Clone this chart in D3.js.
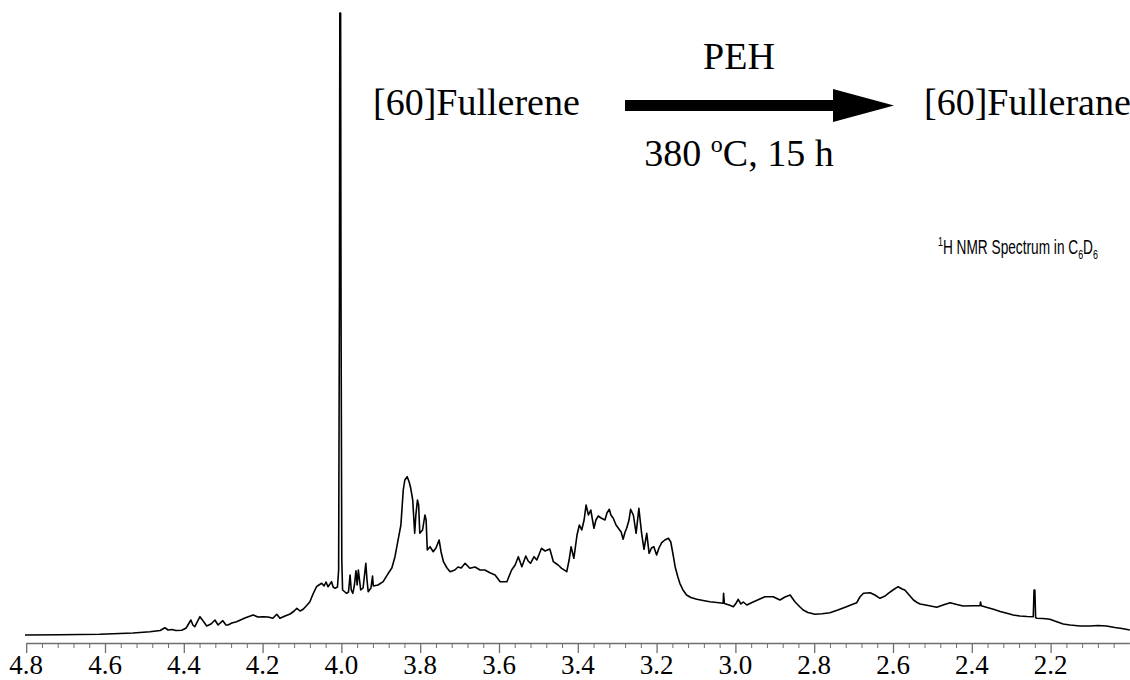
<!DOCTYPE html>
<html>
<head>
<meta charset="utf-8">
<script src="https://cdn.jsdelivr.net/npm/d3@7"></script>
<style>
  html, body { margin: 0; padding: 0; background: #fff; }
  svg { display: block; }
</style>
</head>
<body>
<svg id="chart" width="1130" height="680"></svg>
<script>
// Chemical shift (ppm)
const ppm = [4.803,4.714,4.613,4.529,4.486,4.460,4.448,4.440,4.430,4.420,4.405,4.394,4.382,4.377,4.372,4.359,4.349,4.342,4.331,4.321,4.313,4.301,4.293,4.288,4.278,4.266,4.245,4.224,4.212,4.199,4.186,4.174,4.164,4.156,4.143,4.130,4.120,4.113,4.105,4.097,4.087,4.080,4.072,4.063,4.057,4.050,4.044,4.039,4.034,4.029,4.025,4.021,4.016,4.010,4.007,4.005,4.004,4.002,4.001,3.999,3.997,3.991,3.987,3.982,3.978,3.975,3.971,3.967,3.963,3.960,3.957,3.954,3.951,3.945,3.938,3.935,3.932,3.925,3.921,3.919,3.907,3.894,3.881,3.872,3.864,3.853,3.849,3.843,3.839,3.833,3.828,3.824,3.819,3.814,3.811,3.807,3.804,3.801,3.794,3.788,3.785,3.782,3.775,3.767,3.760,3.752,3.747,3.741,3.732,3.724,3.712,3.704,3.696,3.686,3.674,3.661,3.648,3.636,3.623,3.610,3.597,3.580,3.568,3.559,3.551,3.542,3.532,3.526,3.520,3.511,3.504,3.492,3.483,3.471,3.462,3.450,3.441,3.428,3.422,3.417,3.410,3.402,3.396,3.390,3.384,3.379,3.373,3.367,3.359,3.354,3.348,3.341,3.331,3.326,3.320,3.316,3.310,3.303,3.297,3.290,3.285,3.280,3.276,3.270,3.266,3.259,3.252,3.245,3.238,3.232,3.225,3.219,3.213,3.207,3.200,3.194,3.187,3.179,3.170,3.164,3.158,3.153,3.146,3.141,3.133,3.124,3.113,3.098,3.082,3.065,3.047,3.031,3.030,3.028,3.016,3.005,2.998,2.993,2.986,2.980,2.971,2.955,2.938,2.925,2.904,2.887,2.874,2.861,2.849,2.836,2.828,2.816,2.798,2.780,2.760,2.740,2.718,2.704,2.692,2.684,2.675,2.658,2.646,2.633,2.620,2.612,2.600,2.587,2.577,2.570,2.559,2.548,2.539,2.531,2.511,2.489,2.473,2.455,2.438,2.422,2.399,2.379,2.378,2.376,2.361,2.345,2.328,2.311,2.295,2.278,2.260,2.244,2.242,2.240,2.238,2.235,2.219,2.202,2.186,2.168,2.151,2.125,2.100,2.080,2.058,2.037,2.019,1.999];

// Intensity (arbitrary units)
const intensity = [0,0.2,0.7,2,3.3,4.5,7.3,5,5.5,4.5,4.7,7,15,10,8.3,18.3,13,9,11,15,10,14.3,10,10,12,13.3,17,20,18,18.3,18,16.7,20.7,16.7,19,21,24,26.7,24,25.7,30,33.3,41,48.3,50,51.7,49,53,48.3,51,53.3,48,46.7,48,65,335,622,622,335,75,45,43,41.7,43,60,45,41.7,50,64.3,50,65,55,45,47,71.7,55,43.3,47,59,49,50,53.3,61.7,67,78.3,101.7,110,145,155,158.3,153,146.7,135,101.7,120,135,130,101.7,105,120,115,85,88.3,83.3,87,95,83,73.3,67,63.3,65,68,67,71.7,66.7,68,65,65,62.3,60,53.3,53.3,65,70,78.3,68.3,79,74,71.7,78.3,75,86.7,84,86,73.3,70,66.7,63.3,75,88.3,76.7,100,110,105,115,130,120,125,106.7,115,119,117,115,122,125.7,120,116.7,110,106.7,103,95.7,103,106.7,115,125.7,120,101.7,126.7,101.7,85.7,101.7,81.7,87,88.3,80,87,92.3,95,96.7,93,80,68.3,58,51.7,45,40,37.5,35.7,34.5,33.3,32.5,31.7,41.7,31.5,30,28.3,32,35.7,31,33,30,33,36,38.3,38.3,35,38,40,33.3,28,25,22.5,20.7,21.2,22.3,25,28.3,30.5,32.3,38,41.7,42.3,40,36.7,39,41.7,45,48.3,46,45,40,35,32.5,31,29.5,27.7,30,32.3,30.5,29,29.3,29.3,33,29.3,27.5,25.7,23.5,21.7,20,19,18.5,18.3,45,45,17.5,16.7,16.5,15.7,13.5,11,10,9,9,9.5,9,7.5,6.5,5];

// Axis ticks
const majorTicks = [4.8,4.6,4.4,4.2,4.0,3.8,3.6,3.4,3.2,3.0,2.8,2.6,2.4,2.2];
const tickLabels = ["4.8","4.6","4.4","4.2","4.0","3.8","3.6","3.4","3.2","3.0","2.8","2.6","2.4","2.2"];
const minorTicks = [4.76,4.72,4.68,4.64,4.56,4.52,4.48,4.44,4.36,4.32,4.28,4.24,4.16,4.12,4.08,4.04,3.96,3.92,3.88,3.84,3.76,3.72,3.68,3.64,3.56,3.52,3.48,3.44,3.36,3.32,3.28,3.24,3.16,3.12,3.08,3.04,2.96,2.92,2.88,2.84,2.76,2.72,2.68,2.64,2.56,2.52,2.48,2.44,2.36,2.32,2.28,2.24,2.16,2.12,2.08,2.04];

const svg = d3.select("#chart");
const axisY = 643;
const serif = "Liberation Serif, Times New Roman, serif";
const sans = "Liberation Sans, Arial, sans-serif";
const axisGrey = "#6e6e6e";

const x = d3.scaleLinear().domain([4.8, 2.0]).range([26.2, 1129.4]);
const y = d3.scaleLinear().domain([0, 622]).range([635, 13]);

const data = ppm.map((p, i) => ({p, v: intensity[i]}));

// minor ticks
svg.append("g")
  .attr("transform", `translate(0,${axisY})`)
  .call(d3.axisBottom(x).tickValues(minorTicks).tickSize(5).tickSizeOuter(0).tickFormat(() => ""))
  .call(g => g.select(".domain").remove())
  .call(g => g.selectAll(".tick text").remove())
  .call(g => g.selectAll(".tick line").attr("stroke", axisGrey).attr("stroke-width", 1));

// major ticks and axis line
svg.append("g")
  .attr("transform", `translate(0,${axisY})`)
  .call(d3.axisBottom(x).tickValues(majorTicks).tickSize(10).tickSizeOuter(0).tickFormat(() => ""))
  .call(g => g.selectAll(".tick text").remove())
  .call(g => g.select(".domain").attr("stroke", axisGrey).attr("stroke-width", 1.3))
  .call(g => g.selectAll(".tick line").attr("stroke", axisGrey).attr("stroke-width", 1.3));

// tick labels
svg.append("g").selectAll("text")
  .data(majorTicks)
  .join("text")
  .attr("x", d => x(d))
  .attr("y", axisY + 31)
  .attr("text-anchor", "middle")
  .attr("font-family", serif)
  .attr("font-size", 27)
  .attr("fill", "#000")
  .text((d, i) => tickLabels[i]);

// spectrum line
svg.append("path")
  .datum(data)
  .attr("fill", "none")
  .attr("stroke", "#000")
  .attr("stroke-width", 1.6)
  .attr("stroke-linejoin", "round")
  .attr("d", d3.line().x(d => x(d.p)).y(d => y(d.v)));

// reaction scheme
svg.append("text").attr("x", 373).attr("y", 115)
  .attr("font-family", serif).attr("font-size", 38).text("[60]Fullerene");
svg.append("text").attr("x", 924).attr("y", 115)
  .attr("font-family", serif).attr("font-size", 38).text("[60]Fullerane");
svg.append("text").attr("x", 739).attr("y", 69).attr("text-anchor", "middle")
  .attr("font-family", serif).attr("font-size", 38).text("PEH");
const cond = svg.append("text").attr("x", 739).attr("y", 166).attr("text-anchor", "middle")
  .attr("font-family", serif).attr("font-size", 38);
cond.append("tspan").text("380 ");
cond.append("tspan").attr("dy", -14).attr("font-size", 24).text("o");
cond.append("tspan").attr("dy", 14).text("C, 15 h");

// arrow
svg.append("path")
  .attr("d", "M625,100 L833,100 L833,89 L894,105.5 L833,122 L833,111 L625,111 Z")
  .attr("fill", "#000");

// NMR label (fitted to its width in the reference)
const labG = svg.append("g");
const lab = labG.append("text").attr("x", 0).attr("y", 0)
  .attr("font-family", sans).attr("font-size", 20);
lab.append("tspan").attr("dy", -8).attr("font-size", 13).text("1");
lab.append("tspan").attr("dy", 8).text("H NMR Spectrum in C");
lab.append("tspan").attr("dy", 5).attr("font-size", 13).text("6");
lab.append("tspan").attr("dy", -5).text("D");
lab.append("tspan").attr("dy", 5).attr("font-size", 13).text("6");
const w = lab.node().getBBox().width;
const targetW = 160;
labG.attr("transform", `translate(938,254) scale(${targetW / w},1)`);
</script>
</body>
</html>
